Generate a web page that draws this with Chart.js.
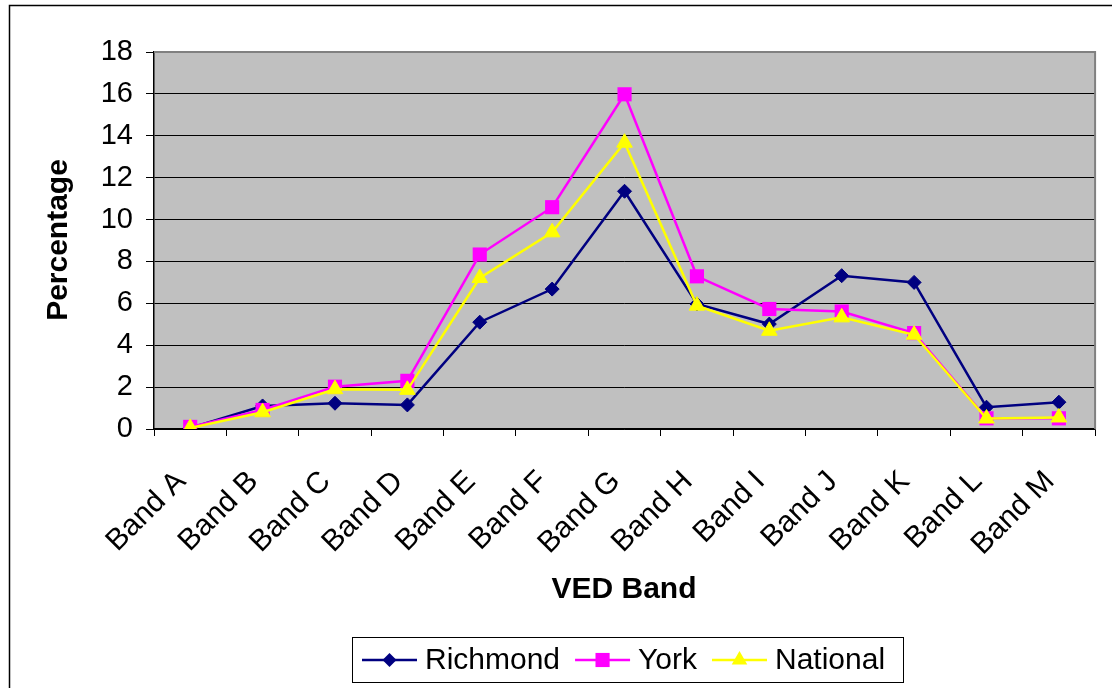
<!DOCTYPE html>
<html>
<head>
<meta charset="utf-8">
<title>VED Band percentages</title>
<script src="https://cdn.jsdelivr.net/npm/chart.js@4/dist/chart.umd.min.js"></script>
<style>
  html, body { margin: 0; padding: 0; background: #ffffff; }
  #wrap { width: 1113px; height: 688px; position: relative; }
  canvas { display: block; }
</style>
</head>
<body>
<div id="wrap"><canvas id="chart" width="1113" height="688"></canvas></div>
<script>
// Categories and series (percentage of vehicles in each VED band)
const bands = ['Band A', 'Band B', 'Band C', 'Band D', 'Band E', 'Band F', 'Band G',
               'Band H', 'Band I', 'Band J', 'Band K', 'Band L', 'Band M'];
const richmond = [0.05, 1.10, 1.23, 1.15, 5.10, 6.68, 11.35, 5.97, 5.01, 7.32, 7.00, 1.04, 1.28];
const york     = [0.10, 0.91, 2.02, 2.30, 8.33, 10.59, 15.98, 7.29, 5.73, 5.61, 4.58, 0.51, 0.51];
const national = [0.05, 0.80, 1.90, 1.87, 7.21, 9.39, 13.67, 5.89, 4.69, 5.33, 4.50, 0.50, 0.55];
const yTicks   = [0, 2, 4, 6, 8, 10, 12, 14, 16, 18];

const FONT = '"Liberation Sans", Arial, Helvetica, sans-serif';

// Grey plot background plus the outer frame of the chart
const frame = {
  id: 'frame',
  beforeDraw(chart) {
    const { ctx, chartArea: a } = chart;
    ctx.save();
    ctx.fillStyle = '#ffffff';
    ctx.fillRect(0, 0, chart.width, chart.height);
    ctx.strokeStyle = '#000000';
    ctx.lineWidth = 1.5;
    ctx.beginPath();
    ctx.moveTo(9.5, chart.height + 2);
    ctx.lineTo(9.5, 5.5);
    ctx.lineTo(1112, 5.5);
    ctx.stroke();
    ctx.fillStyle = '#C0C0C0';
    ctx.fillRect(a.left, a.top, a.right - a.left, a.bottom - a.top);
    ctx.restore();
  },
  beforeDatasetsDraw(chart) {
    const { ctx, chartArea: a } = chart;
    ctx.save();
    ctx.strokeStyle = '#808080';
    ctx.lineWidth = 2;
    ctx.beginPath();
    ctx.moveTo(a.left, a.top);
    ctx.lineTo(a.right, a.top);
    ctx.lineTo(a.right, a.bottom);
    ctx.stroke();
    ctx.restore();
  }
};

// Axis titles and a boxed legend with line + marker samples
function marker(ctx, style, x, y, r, color) {
  ctx.fillStyle = color;
  ctx.beginPath();
  if (style === 'rectRot') {
    ctx.moveTo(x - r, y); ctx.lineTo(x, y - r); ctx.lineTo(x + r, y); ctx.lineTo(x, y + r);
  } else if (style === 'rect') {
    const s = r * Math.SQRT1_2;
    ctx.rect(x - s, y - s, 2 * s, 2 * s);
  } else {
    ctx.moveTo(x, y - r);
    ctx.lineTo(x + r * Math.sin(Math.PI / 3), y + r / 2);
    ctx.lineTo(x - r * Math.sin(Math.PI / 3), y + r / 2);
  }
  ctx.closePath();
  ctx.fill();
}

const annotations = {
  id: 'annotations',
  afterDraw(chart) {
    const { ctx } = chart;
    ctx.save();
    ctx.fillStyle = '#000000';
    ctx.font = 'bold 30px ' + FONT;
    ctx.textAlign = 'center';
    ctx.textBaseline = 'alphabetic';
    ctx.fillText('VED Band', 624, 598);
    ctx.save();
    ctx.translate(67, 240);
    ctx.rotate(-Math.PI / 2);
    ctx.fillText('Percentage', 0, 0);
    ctx.restore();

    // legend
    ctx.font = '30px ' + FONT;
    const lineLen = 55, textGap = 8, itemGap = 15, padL = 9.5, padR = 18;
    let total = padL + padR;
    chart.data.datasets.forEach((ds, i) => {
      total += lineLen + textGap + ctx.measureText(ds.label).width + (i ? itemGap : 0);
    });
    const box = { x: 352.5, y: 637.5, w: Math.round(total), h: 45 };
    ctx.strokeStyle = '#000000';
    ctx.lineWidth = 1;
    ctx.strokeRect(box.x, box.y, box.w, box.h);
    ctx.textAlign = 'left';
    ctx.textBaseline = 'middle';
    const cy = box.y + box.h / 2;
    let x = box.x + padL;
    chart.data.datasets.forEach(ds => {
      ctx.strokeStyle = ds.borderColor;
      ctx.lineWidth = ds.borderWidth;
      ctx.beginPath();
      ctx.moveTo(x, cy);
      ctx.lineTo(x + lineLen, cy);
      ctx.stroke();
      marker(ctx, ds.pointStyle, x + lineLen / 2, cy, ds.pointRadius, ds.pointBackgroundColor);
      ctx.fillStyle = '#000000';
      ctx.fillText(ds.label, x + lineLen + textGap, cy + 1);
      x += lineLen + textGap + ctx.measureText(ds.label).width + itemGap;
    });
    ctx.restore();
  }
};

new Chart(document.getElementById('chart'), {
  type: 'line',
  data: {
    labels: bands,
    datasets: [
      { label: 'Richmond', data: richmond, order: 3,
        borderColor: '#000080', backgroundColor: '#000080', borderWidth: 2.5,
        pointStyle: 'rectRot', pointRadius: 7, pointBorderWidth: 1,
        pointBackgroundColor: '#000080', pointBorderColor: '#000080' },
      { label: 'York', data: york, order: 2,
        borderColor: '#FF00FF', backgroundColor: '#FF00FF', borderWidth: 2.5,
        pointStyle: 'rect', pointRadius: 10, pointBorderWidth: 0,
        pointBackgroundColor: '#FF00FF', pointBorderColor: '#FF00FF' },
      { label: 'National', data: national, order: 1,
        borderColor: '#FFFF00', backgroundColor: '#FFFF00', borderWidth: 2.5,
        pointStyle: 'triangle', pointRadius: 9, pointBorderWidth: 1,
        pointBackgroundColor: '#FFFF00', pointBorderColor: '#FFFF00' }
    ]
  },
  options: {
    responsive: false,
    animation: false,
    devicePixelRatio: 1,
    layout: { padding: { top: 52, right: 17, left: 0, bottom: 0 } },
    plugins: { legend: { display: false }, tooltip: { enabled: false } },
    elements: { line: { tension: 0 } },
    scales: {
      x: {
        type: 'category',
        offset: true,
        grid: { display: true, offset: true, drawOnChartArea: false, color: '#000000', tickLength: 7, tickWidth: 1 },
        border: { display: true, color: '#000000', width: 1.5 },
        ticks: { autoSkip: false, minRotation: 45, maxRotation: 45, padding: 28, labelOffset: -9,
                 color: '#000000', font: { family: FONT, size: 30 } },
        afterFit(scale) { scale.height = 688 - 429; }
      },
      y: {
        min: 0, max: 18,
        afterBuildTicks(scale) { scale.ticks = yTicks.map(v => ({ value: v })); },
        grid: { color: '#000000', lineWidth: 1, tickLength: 8, tickColor: '#000000' },
        border: { display: true, color: '#000000', width: 1.5 },
        ticks: { padding: 13, color: '#000000', font: { family: FONT, size: 29 } },
        afterFit(scale) { scale.width = 154; }
      }
    }
  },
  plugins: [frame, annotations]
});
</script>
</body>
</html>
